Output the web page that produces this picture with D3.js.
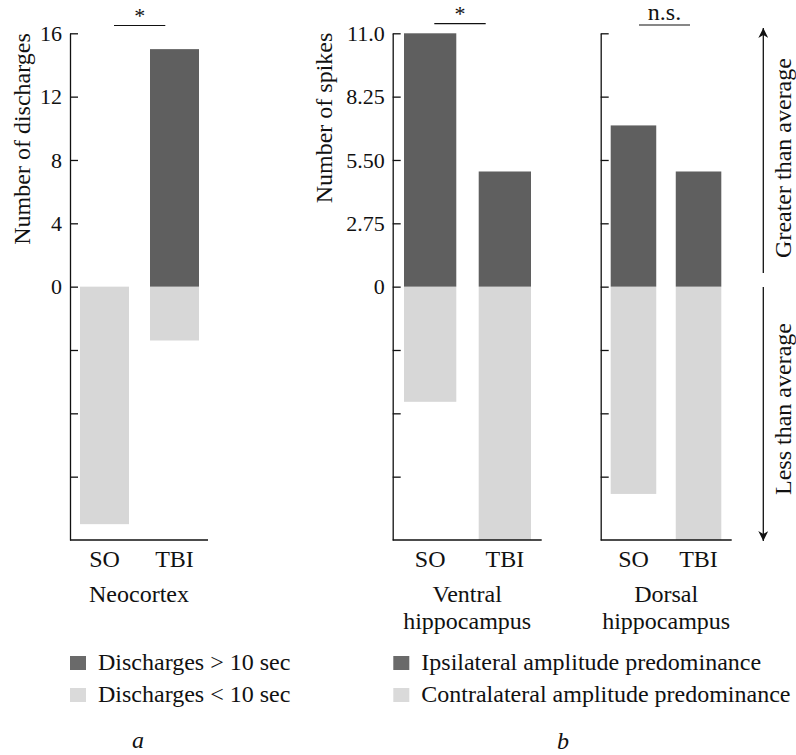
<!DOCTYPE html>
<html>
<head>
<meta charset="utf-8">
<script src="https://cdn.jsdelivr.net/npm/d3@7"></script>
<style>
  body { margin: 0; background: #fff; }
  svg text { font-family: "Liberation Serif", "Times New Roman", serif; fill: #111; }
</style>
</head>
<body>
<svg></svg>
<script>
var width = 796;
var height = 755;

// data
var groups = ["SO", "TBI"];
var neoLong = [0, 15];        // discharges > 10 sec
var neoShort = [15, 3.4];     // discharges < 10 sec
var ventralIpsi = [11, 5];
var ventralContra = [5, 11];
var dorsalIpsi = [7, 5];
var dorsalContra = [9, 11];

var neoTicks = [16, 12, 8, 4, 0, -4, -8, -12];
var neoTickLabels = ["16", "12", "8", "4", "0", "", "", ""];
var spikeTicks = [11, 8.25, 5.5, 2.75, 0, -2.75, -5.5, -8.25];
var spikeTickLabels = ["11.0", "8.25", "5.50", "2.75", "0", "", "", ""];

var darkColor = "#5f5f5f";
var lightColor = "#d7d7d7";

var yTop = 33.3, yBottom = 540;

var svg = d3.select("svg")
    .attr("width", width)
    .attr("height", height);

var panels = [
  {x0: 70, x1: 208, bx0: 80, bx1: 199, max: 16, up: neoLong, down: neoShort,
   ticks: neoTicks, labels: neoTickLabels, name: ["Neocortex"]},
  {x0: 392.7, x1: 541.7, bx0: 404, bx1: 531, max: 11, up: ventralIpsi, down: ventralContra,
   ticks: spikeTicks, labels: spikeTickLabels, name: ["Ventral", "hippocampus"]},
  {x0: 600.7, x1: 731.7, bx0: 610.7, bx1: 721.3, max: 11, up: dorsalIpsi, down: dorsalContra,
   ticks: spikeTicks, labels: ["", "", "", "", "", "", "", ""], name: ["Dorsal", "hippocampus"]}
];

panels.forEach(function(p) {
  var y = d3.scaleLinear().domain([-p.max, p.max]).range([yBottom, yTop]);
  var x = d3.scaleBand().domain(groups).range([p.bx0, p.bx1]).paddingInner(0.3);
  var g = svg.append("g");

  // light bars (below zero)
  g.selectAll(".down")
    .data(p.down)
    .enter()
    .append("rect")
      .attr("x", (d, i) => x(groups[i]))
      .attr("width", x.bandwidth())
      .attr("y", y(0))
      .attr("height", d => y(-d) - y(0))
      .attr("fill", lightColor);

  // dark bars (above zero)
  g.selectAll(".up")
    .data(p.up)
    .enter()
    .append("rect")
      .attr("x", (d, i) => x(groups[i]))
      .attr("width", x.bandwidth())
      .attr("y", d => y(d))
      .attr("height", d => y(0) - y(d))
      .attr("fill", darkColor);

  var axis = d3.axisLeft(y)
      .tickValues(p.ticks)
      .tickSize(-8)
      .tickSizeOuter(0)
      .tickPadding(8)
      .tickFormat((d, i) => p.labels[i]);

  var ax = g.append("g")
      .attr("transform", `translate(${p.x0},0)`)
      .call(axis);
  ax.selectAll("path, line").attr("stroke", "#111").attr("stroke-width", 1.3);
  ax.selectAll("text")
      .style("font-size", "22px")
      .style("font-family", "Liberation Serif");

  // bottom line
  g.append("line")
      .attr("x1", p.x0).attr("x2", p.x1)
      .attr("y1", yBottom).attr("y2", yBottom)
      .attr("stroke", "#111").attr("stroke-width", 1.3);

  g.selectAll(".cat")
    .data(groups)
    .enter()
    .append("text")
      .attr("x", d => x(d) + x.bandwidth() / 2)
      .attr("y", 567)
      .attr("text-anchor", "middle")
      .style("font-size", "24px")
      .text(d => d);

  g.selectAll(".name")
    .data(p.name)
    .enter()
    .append("text")
      .attr("x", (p.x0 + p.x1) / 2)
      .attr("y", (d, i) => 602 + i * 27)
      .attr("text-anchor", "middle")
      .style("font-size", "24px")
      .text(d => d);
});

// significance marks
var sigs = [
  {x1: 114, x2: 165.3, y: 25.5, label: "*"},
  {x1: 434.3, x2: 485.7, y: 23.7, label: "*"},
  {x1: 639, x2: 690, y: 25, label: "n.s."}
];
sigs.forEach(function(s) {
  svg.append("line")
      .attr("x1", s.x1).attr("x2", s.x2)
      .attr("y1", s.y).attr("y2", s.y)
      .attr("stroke", "#111").attr("stroke-width", 1.2);
  svg.append("text")
      .attr("x", (s.x1 + s.x2) / 2)
      .attr("y", s.label === "*" ? s.y - 3 : s.y - 5)
      .attr("text-anchor", "middle")
      .style("font-size", s.label === "*" ? "22px" : "24px")
      .text(s.label);
});

// vertical labels, baseline at x
function vText(x, y, t) {
  svg.append("text")
      .attr("transform", `translate(${x},${y}) rotate(-90)`)
      .attr("text-anchor", "middle")
      .style("font-size", "24px")
      .text(t);
}
vText(30, 139, "Number of discharges");
vText(332, 118, "Number of spikes");
vText(791, 158, "Greater than average");
vText(791, 409, "Less than average");

// arrows
svg.append("defs").append("marker")
    .attr("id", "head")
    .attr("viewBox", "0 0 10 10")
    .attr("refX", 10).attr("refY", 5)
    .attr("markerWidth", 11).attr("markerHeight", 10)
    .attr("markerUnits", "userSpaceOnUse")
    .attr("orient", "auto")
  .append("path")
    .attr("d", "M0,0 L10,5 L0,10 L3,5 Z")
    .attr("fill", "#111");

svg.append("line")
    .attr("x1", 763.3).attr("x2", 763.3)
    .attr("y1", 273).attr("y2", 28)
    .attr("stroke", "#111").attr("stroke-width", 1.3)
    .attr("marker-end", "url(#head)");
svg.append("line")
    .attr("x1", 763.3).attr("x2", 763.3)
    .attr("y1", 287).attr("y2", 541)
    .attr("stroke", "#111").attr("stroke-width", 1.3)
    .attr("marker-end", "url(#head)");

// legends
var legendA = [{c: darkColor, t: "Discharges > 10 sec"}, {c: lightColor, t: "Discharges < 10 sec"}];
var legendB = [{c: darkColor, t: "Ipsilateral amplitude predominance"}, {c: lightColor, t: "Contralateral amplitude predominance"}];

function drawLegend(items, x) {
  var lg = svg.append("g").selectAll("g")
    .data(items)
    .enter()
    .append("g")
      .attr("transform", (d, i) => `translate(${x},${670 + i * 32})`);
  lg.append("rect")
      .attr("x", 0).attr("y", -14)
      .attr("width", 16).attr("height", 14)
      .attr("fill", d => d.c === darkColor ? "#6a6a6a" : "#dadada");
  lg.append("text")
      .attr("x", 28)
      .attr("y", 0)
      .style("font-size", "24px")
      .text(d => d.t);
}
drawLegend(legendA, 70);
drawLegend(legendB, 393.3);

// panel letters
svg.append("text").attr("x", 138).attr("y", 748).attr("text-anchor", "middle")
    .style("font-size", "24px").style("font-style", "italic").text("a");
svg.append("text").attr("x", 563).attr("y", 749).attr("text-anchor", "middle")
    .style("font-size", "24px").style("font-style", "italic").text("b");
</script>
</body>
</html>
